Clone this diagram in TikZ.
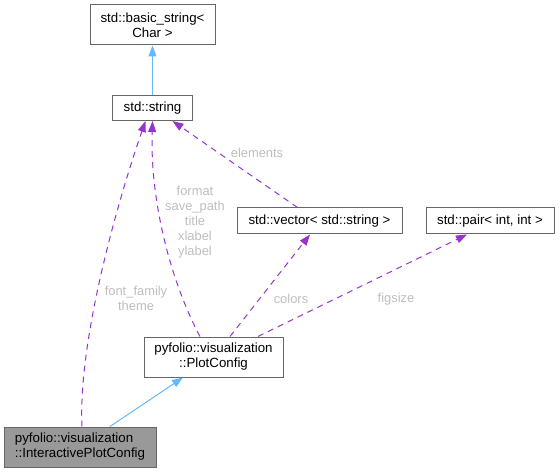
\documentclass[tikz,border=0pt]{standalone}
\usepackage{fontspec}
\setmainfont{Liberation Sans}
\usetikzlibrary{arrows.meta}
\definecolor{edgepurple}{HTML}{9A32CD}
\definecolor{edgeblue}{HTML}{63B8FF}
\definecolor{boxborder}{HTML}{666666}
\definecolor{boxfill}{HTML}{999999}
\definecolor{lbl}{HTML}{BEBEBE}
\begin{document}
\begin{tikzpicture}[x=1pt,y=-1pt,
 box/.style={draw=boxborder,line width=1pt,fill=white,inner sep=0pt,font=\fontsize{13.3}{15}\selectfont,align=center,text=black},
 lab/.style={text=lbl,font=\fontsize{12.9}{15}\selectfont,align=center,inner sep=0pt},
 usage/.style={draw=edgepurple,line width=1pt,dash pattern=on 6pt off 5pt,-{Triangle[length=11pt,width=8pt,fill=edgepurple]}},
 inherit/.style={draw=edgeblue,line width=1pt,-{Triangle[length=11pt,width=8pt,fill=edgeblue]}}]
\useasboundingbox (0,0) rectangle (560,473);
\node[box,minimum width=125pt,minimum height=40pt] (bs) at (152.5,25) {std::basic\_string<\\Char >};
\node[box,minimum width=80pt,minimum height=25pt] (str) at (152.5,108) {std::string};
\node[box,minimum width=165pt,minimum height=26pt] (vec) at (319.5,221) {std::vector< std::string >};
\node[box,minimum width=128pt,minimum height=26pt] (pair) at (490,221) {std::pair< int, int >};
\node[box,minimum width=139pt,minimum height=40pt] (pc) at (213.5,357) {pyfolio::visualization\\::PlotConfig};
\node[box,fill=boxfill,minimum width=152pt,minimum height=40pt,align=left] (ipc) at (80,447) {pyfolio::visualization\\::InteractivePlotConfig};

\node[lab] (l1) at (257,153) {elements};
\node[lab] (l2) at (195,222) {format\\save\_path\\title\\xlabel\\ylabel};
\node[lab] (l3) at (136,298.5) {font\_family\\theme};
\node[lab] (l4) at (291,299) {colors};
\node[lab] (l5) at (396,299) {figsize};

\draw[inherit] (str.north) -- (bs.south);
\draw[inherit] ([xshift=30pt]ipc.north) -- ([xshift=-30.5pt]pc.south);
\draw[usage] ([xshift=2pt]ipc.north) .. controls (78,340) and (118,200) .. ([xshift=-7pt]str.south);
\draw[usage] ([xshift=-13.5pt]pc.north) .. controls (170,280) and (150,200) .. (str.south);
\draw[usage] ([xshift=-22pt]vec.north) -- ([xshift=20pt]str.south);
\draw[usage] ([xshift=16.5pt]pc.north) -- ([xshift=-9.5pt]vec.south);
\draw[usage] ([xshift=44.5pt]pc.north) -- ([xshift=-23pt]pair.south);
\end{tikzpicture}
\end{document}
